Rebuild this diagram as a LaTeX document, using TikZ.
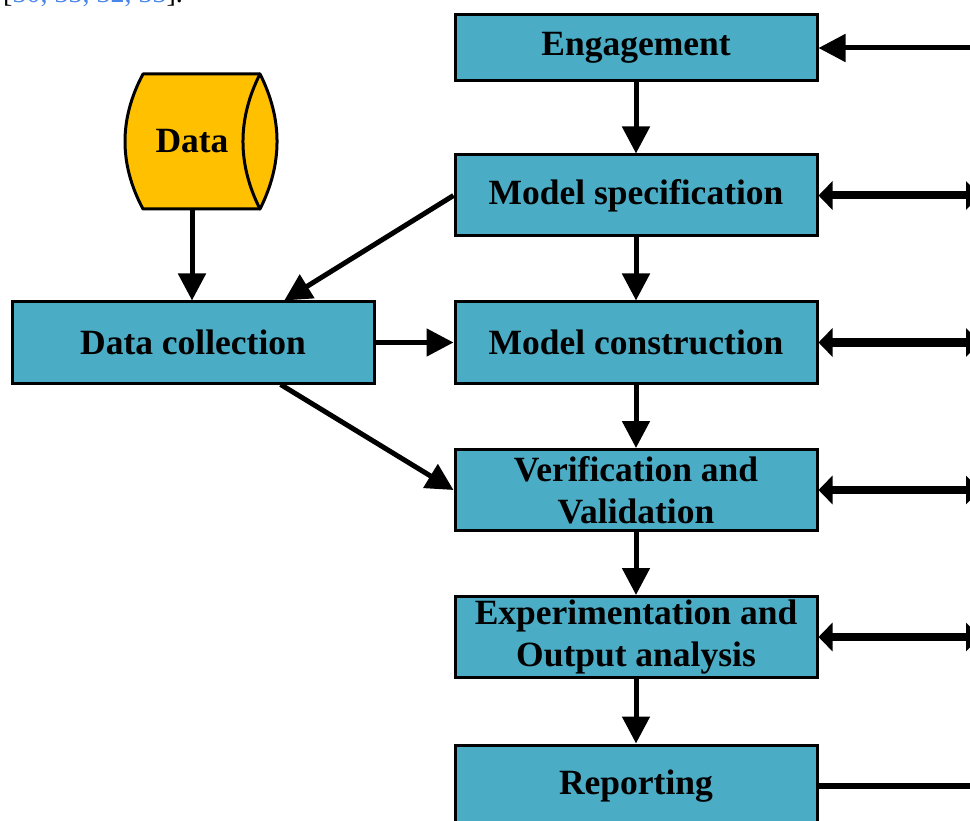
\documentclass[tikz,border=0pt]{standalone}
\usepackage{fontspec}
\setmainfont{Liberation Serif}
\usetikzlibrary{arrows.meta,calc}
\definecolor{boxblue}{HTML}{4BACC6}
\definecolor{datagold}{HTML}{FFC000}
\definecolor{citeblue}{HTML}{4A86E8}
\tikzset{
  stage/.style={draw=black, line width=3pt, fill=boxblue, minimum width=362pt,
    minimum height=81pt, align=center, inner sep=0pt,
    font=\bfseries\fontsize{35.5}{42}\selectfont},
  flow/.style={line width=5pt, -{Triangle[length=27pt,width=27pt]}},
  twoway/.style={line width=8pt,
    {Triangle[length=14pt,width=28pt]}-{Triangle[length=14pt,width=28pt]}},
}
\begin{document}
\begin{tikzpicture}[x=1pt,y=-1pt]
\useasboundingbox (0,0) rectangle (970,821);
\clip (0,0) rectangle (970,821);

% citation line running above the figure
\node[anchor=base west, inner sep=0pt, font=\fontsize{28}{34}\selectfont]
  (cite) at (3,3) {[{\color{citeblue}30, 33, 32, 33}].};

% process stages
\node[stage, minimum height=66pt] (en) at (636,48) {Engagement};
\node[stage] (ms) at (636,195.5) {Model specification};
\node[stage] (mc) at (636,342.5) {Model construction};
\node[stage] (vv) at (636,490) {Verification and\\Validation};
\node[stage] (eo) at (636,637) {Experimentation and\\Output analysis};
\node[stage, minimum height=82pt] (rp) at (636,786) {Reporting};
\node[stage] (dc) at (193,342.5) {Data collection};

% data store drawn as a horizontal drum
\fill[datagold] (143,74) -- (260,74)
  .. controls (282.7,119) and (282.7,164) .. (260,209)
  -- (143,209)
  .. controls (119,164) and (119,119) .. (143,74) -- cycle;
\draw[line width=3pt, line join=round] (260,74) -- (143,74)
  .. controls (119,119) and (119,164) .. (143,209) -- (260,209);
\draw[line width=3pt, line join=round] (260,74)
  .. controls (282.7,119) and (282.7,164) .. (260,209)
  .. controls (237.3,164) and (237.3,119) .. (260,74) -- cycle;
\node[minimum width=134pt, minimum height=135pt, inner sep=0pt,
  font=\bfseries\fontsize{35.5}{42}\selectfont] (data) at (192,141.5) {Data};

% main flow
\draw[flow] (en.south) -- (ms.north);
\draw[flow] (ms.south) -- (mc.north);
\draw[flow] (mc.south) -- (vv.north);
\draw[flow] (vv.south) -- (eo.north);
\draw[flow] (eo.south) -- (rp.north);

% data paths
\draw[flow] (data.south) -- (data.south |- dc.north);
\draw[flow] (ms.west) -- ($(dc.north west)!0.75!(dc.north east)$);
\draw[flow] (dc.east) -- (mc.west);
\draw[flow] ($(dc.south west)!0.74!(dc.south east)$) -- (vv.west);

% links to the right-hand side
\coordinate (r1) at (990,48);
\coordinate (r2) at (980,195.5);
\coordinate (r3) at (980,342.5);
\coordinate (r4) at (980,490);
\coordinate (r5) at (980,637);
\coordinate (r6) at (990,786);
\draw[flow] (r1) -- (en.east);
\draw[twoway] (ms.east) -- (r2);
\draw[twoway] (mc.east) -- (r3);
\draw[twoway] (vv.east) -- (r4);
\draw[twoway] (eo.east) -- (r5);
\draw[line width=6pt] (rp.east) -- (r6);
\end{tikzpicture}
\end{document}
